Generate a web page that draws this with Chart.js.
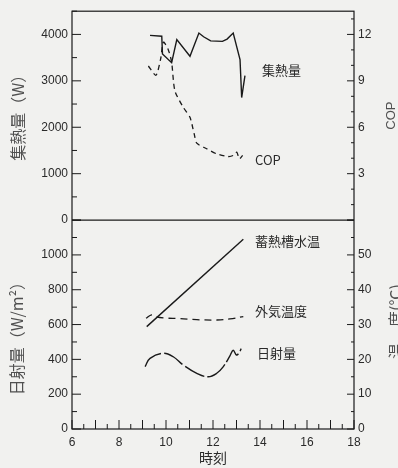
<!DOCTYPE html>
<html>
<head>
<meta charset="utf-8">
<script src="https://cdn.jsdelivr.net/npm/chart.js@4.4.0/dist/chart.umd.min.js"></script>
<style>
    html, body { margin: 0; padding: 0; background: #f1f1ef; }
    #wrap { width: 398px; height: 468px; }
</style>
</head>
<body>
<div id="wrap"><canvas id="chart" width="398" height="468"></canvas></div>
<script>
// ===== DATA =====
// upper panel: 集熱量 (W) and COP, lower panel: 日射量 (W/m2) and temperatures (℃)
const qTime = [9.32, 9.82, 9.85, 10.24, 10.46, 11.02, 11.4, 11.6, 11.9, 12.4, 12.6, 12.86, 13.15, 13.22, 13.36];
const qWatt = [3980, 3960, 3580, 3390, 3890, 3530, 4030, 3950, 3860, 3850, 3900, 4030, 3460, 2640, 3110];

const copTime = [9.25, 9.57, 9.77, 9.89, 10.1, 10.24, 10.38, 10.74, 11.02, 11.2, 11.31, 11.73, 12.16, 12.65, 12.86, 13.01, 13.12, 13.26];
const copVal = [9.96, 9.36, 10.4, 11.5, 11.0, 10.2, 8.35, 7.28, 6.64, 5.57, 4.97, 4.61, 4.28, 4.11, 4.18, 4.39, 3.96, 4.18];

const tankTime = [9.18, 13.29];
const tankTemp = [29.4, 54.5];

const airTime = [9.15, 9.39, 9.6, 9.89, 10.6, 11.31, 12.16, 12.72, 13.29];
const airTemp = [31.8, 32.8, 32.2, 31.9, 31.7, 31.4, 31.3, 31.6, 32.3];

const radTime = [9.11, 9.32, 9.89, 10.31, 10.74, 11.31, 11.8, 12.16, 12.44, 12.72, 12.86, 13.0, 13.12, 13.2];
const radVal = [358, 406, 435, 415, 367, 320, 300, 320, 358, 420, 452, 425, 440, 462];

const hourTicks = { min: 6, max: 18, minor: 0.5, major: 1, label: 2 };

// series names written inside the plot: [text, time, value, axis]
const seriesNames = [
    ['集熱量', 14.09, 3235, 'yQ'],
    ['COP', 13.79, 3.86, 'yC'],
    ['蓄熱槽水温', 13.79, 54.0, 'yT'],
    ['外気温度', 13.79, 33.9, 'yT'],
    ['日射量', 13.87, 21.8, 'yT']
];

const ink = '#1a1a1a';
const titleInk = '#505050';
const tickFont = { family: 'Liberation Sans, Arial, sans-serif', size: 12 };
const jpFont = '"Noto Sans CJK JP", sans-serif';

const pts = (xs, ys) => xs.map((t, i) => ({ x: t, y: ys[i] }));

// ===== FRAME, INWARD TICKS, TITLES =====
function inwardTicks(ctx, scale, minor, major, side) {
    for (let v = scale.min; v <= scale.max + 1e-9; v += minor) {
        const isMajor = Math.abs(v / major - Math.round(v / major)) < 1e-6;
        const len = isMajor ? 9 : 5;
        const p = scale.getPixelForValue(v);
        ctx.beginPath();
        if (side === 'left') { ctx.moveTo(scale.right, p); ctx.lineTo(scale.right + len, p); }
        else if (side === 'right') { ctx.moveTo(scale.left, p); ctx.lineTo(scale.left - len + 2, p); }
        else { ctx.moveTo(p, scale.top); ctx.lineTo(p, scale.top - len); }
        ctx.stroke();
    }
}

function vText(ctx, text, x, y, font, color) {
    ctx.save();
    ctx.translate(x, y);
    ctx.rotate(-Math.PI / 2);
    ctx.font = font;
    ctx.fillStyle = color;
    ctx.textAlign = 'center';
    ctx.textBaseline = 'middle';
    ctx.fillText(text, 0, 0);
    ctx.restore();
}

const decorPlugin = {
    id: 'decor',
    afterDraw(chart) {
        const ctx = chart.ctx;
        const a = chart.chartArea;
        const s = chart.scales;
        ctx.save();
        ctx.strokeStyle = ink;
        ctx.lineWidth = 1.2;
        ctx.strokeRect(a.left, a.top, a.right - a.left, a.bottom - a.top);
        ctx.beginPath();
        ctx.moveTo(a.left, s.yQ.bottom);
        ctx.lineTo(a.right, s.yQ.bottom);
        ctx.stroke();

        ctx.lineWidth = 1;
        inwardTicks(ctx, s.yQ, 500, 1000, 'left');
        inwardTicks(ctx, s.yR, 100, 200, 'left');
        inwardTicks(ctx, s.yC, 1, 3, 'right');
        inwardTicks(ctx, s.yT, 5, 10, 'right');
        inwardTicks(ctx, s.x, hourTicks.minor, hourTicks.major, 'bottom');

        // axis titles
        vText(ctx, '集熱量（W）', 18, (s.yQ.top + s.yQ.bottom) / 2 - 2, '16px ' + jpFont, titleInk);
        vText(ctx, '日射量（W/m²）', 17, (s.yR.top + s.yR.bottom) / 2 + 10, '16px ' + jpFont, titleInk);
        vText(ctx, 'COP', 391, (s.yC.top + s.yC.bottom) / 2, '13px Liberation Sans, Arial, sans-serif', titleInk);
        vText(ctx, '温　度(℃)', 396, (s.yT.top + s.yT.bottom) / 2 - 3, '16px ' + jpFont, titleInk);

        ctx.font = '14px ' + jpFont;
        ctx.fillStyle = '#2a2a2a';
        ctx.textAlign = 'center';
        ctx.textBaseline = 'middle';
        ctx.fillText('時刻', (a.left + a.right) / 2, 458);

        // series names
        ctx.font = '13px ' + jpFont;
        ctx.textAlign = 'left';
        seriesNames.forEach(n => {
            ctx.fillText(n[0], s.x.getPixelForValue(n[1]), s[n[3]].getPixelForValue(n[2]));
        });
        ctx.restore();
    }
};

// ===== CHART =====
const yTickCfg = (stepSize, labelFn) => ({
    stepSize: stepSize,
    autoSkip: false,
    color: '#2a2a2a',
    font: tickFont,
    padding: 4,
    callback: v => labelFn(v) ? v : ''
});

const noGrid = { display: false, drawTicks: false };
const noBorder = { display: false };

new Chart(document.getElementById('chart').getContext('2d'), {
    type: 'line',
    data: {
        datasets: [
            { label: '集熱量', data: pts(qTime, qWatt), yAxisID: 'yQ', borderColor: ink, borderWidth: 1.4, pointRadius: 0, tension: 0 },
            { label: 'COP', data: pts(copTime, copVal), yAxisID: 'yC', borderColor: ink, borderWidth: 1.3, borderDash: [5, 4], pointRadius: 0, tension: 0.25 },
            { label: '蓄熱槽水温', data: pts(tankTime, tankTemp), yAxisID: 'yT', borderColor: ink, borderWidth: 1.4, pointRadius: 0, tension: 0 },
            { label: '外気温度', data: pts(airTime, airTemp), yAxisID: 'yT', borderColor: ink, borderWidth: 1.3, borderDash: [7, 5], pointRadius: 0, tension: 0.4 },
            { label: '日射量', data: pts(radTime, radVal), yAxisID: 'yR', borderColor: ink, borderWidth: 1.4, borderDash: [22, 3], pointRadius: 0, tension: 0.4 }
        ]
    },
    options: {
        responsive: false,
        animation: false,
        devicePixelRatio: 1,
        layout: { padding: { top: 10, left: 0, right: 0, bottom: 0 } },
        plugins: { legend: { display: false }, tooltip: { enabled: false } },
        scales: {
            x: {
                type: 'linear',
                min: hourTicks.min,
                max: hourTicks.max,
                grid: noGrid,
                border: noBorder,
                ticks: {
                    stepSize: hourTicks.minor,
                    autoSkip: false,
                    maxRotation: 0,
                    color: '#2a2a2a',
                    font: tickFont,
                    padding: 6,
                    callback: v => (v % hourTicks.label === 0 ? v : '')
                },
                afterFit: sc => { sc.height = 39; }
            },
            yR: {
                type: 'linear', position: 'left', stack: 'L', stackWeight: 1, weight: 0,
                min: 0, max: 1200,
                grid: noGrid, border: noBorder,
                ticks: yTickCfg(100, v => v % 200 === 0 && v <= 1000),
                afterFit: sc => { sc.width = 72; }
            },
            yQ: {
                type: 'linear', position: 'left', stack: 'L', stackWeight: 1, weight: 1,
                min: 0, max: 4500,
                grid: noGrid, border: noBorder,
                ticks: yTickCfg(500, v => v % 1000 === 0),
                afterFit: sc => { sc.width = 72; }
            },
            yC: {
                type: 'linear', position: 'right', stack: 'R', stackWeight: 1, weight: 0,
                min: 0, max: 13.5,
                grid: noGrid, border: noBorder,
                ticks: yTickCfg(1, v => v > 0 && v <= 12 && v % 3 === 0),
                afterFit: sc => { sc.width = 44; }
            },
            yT: {
                type: 'linear', position: 'right', stack: 'R', stackWeight: 1, weight: 1,
                min: 0, max: 60,
                grid: noGrid, border: noBorder,
                ticks: yTickCfg(5, v => v % 10 === 0 && v <= 50),
                afterFit: sc => { sc.width = 44; }
            }
        }
    },
    plugins: [decorPlugin]
});
</script>
</body>
</html>
